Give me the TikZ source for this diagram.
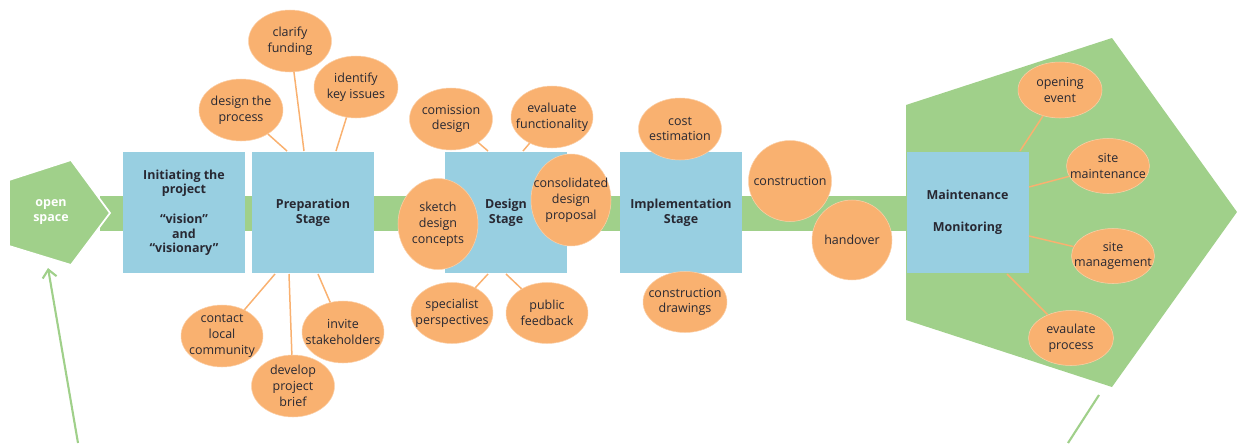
\documentclass[tikz,border=0pt]{standalone}
\usepackage{fontspec}
\setmainfont{Open Sans}
\usetikzlibrary{shapes.geometric,arrows.meta}
\definecolor{cgreen}{RGB}{160,208,138}
\definecolor{cblue}{RGB}{152,207,225}
\definecolor{corange}{RGB}{249,177,112}
\definecolor{ctext}{RGB}{40,40,50}
\tikzset{
  stagebox/.style={fill=cblue, minimum width=2.44cm, minimum height=2.42cm, inner sep=0pt,
    font=\bfseries\fontsize{7.1}{8.6}\selectfont, text=ctext, align=center},
  idea/.style={ellipse, fill=corange, draw=white!40!corange, line width=0.3pt, inner sep=-14pt,
    text=ctext, align=center, font=\fontsize{7.1}{9}\selectfont},
  link/.style={draw=corange, line width=0.85pt},
  gline/.style={draw=cgreen, line width=1.2pt}
}
\begin{document}
\begin{tikzpicture}[x=0.02cm,y=-0.02cm]
\useasboundingbox (0,0) rectangle (1237,443);
% bar
\fill[cgreen] (100,196) rectangle (906,231);
% pentagons
\filldraw[fill=cgreen, draw=white, line width=1pt] (9,180) -- (71,160) -- (110,213) -- (71,265) -- (9,246) -- cycle;
\fill[cgreen] (906,105) -- (1112,38) -- (1237,212) -- (1112,387) -- (906,320) -- cycle;
\node[text=white, font=\bfseries\fontsize{7.1}{9}\selectfont, align=center] (os) at (51,212) {open\\space};
% arrows
\coordinate (atail) at (78,443);
\coordinate (ahead) at (48,268);
\draw[gline, -{Straight Barb[length=4.5pt,width=8pt]}] (atail) -- (ahead);
\coordinate (btail) at (1068,443);
\coordinate (bhead) at (1099,395);
\draw[gline] (btail) -- (bhead);
% stage boxes
\node[stagebox, font=\bfseries\fontsize{7.1}{8.2}\selectfont] (init) at (184,212.5) {Initiating the\\project\\[9pt]“vision”\\and\\“visionary”};
\node[stagebox] (prep) at (313,212.5) {Preparation\\Stage};
\node[stagebox] (des) at (506,212.5) {Design\\Stage};
\node[stagebox] (impl) at (681,212.5) {Implementation\\Stage};
\node[stagebox, font=\bfseries\fontsize{7.1}{9}\selectfont] (maint) at (967.5,212.5) {Maintenance\\[9pt]Monitoring};
% preparation ideas
\node[idea, minimum width=1.66cm, minimum height=1.24cm] (fund) at (290,41) {clarify\\funding};
\node[idea, minimum width=1.68cm, minimum height=1.24cm] (keyi) at (356,87) {identify\\key issues};
\node[idea, minimum width=1.68cm, minimum height=1.24cm] (proc) at (241,110) {design the\\process};
\node[idea, minimum width=1.64cm, minimum height=1.24cm] (comm) at (222,336) {contact\\local\\community};
\node[idea, minimum width=1.66cm, minimum height=1.24cm] (brief) at (293,386) {develop\\project\\brief};
\node[idea, minimum width=1.64cm, minimum height=1.24cm] (stake) at (343,332) {invite\\stakeholders};
% design ideas
\node[idea, minimum width=1.66cm, minimum height=1.24cm] (comi) at (451,119) {comission\\design};
\node[idea, minimum width=1.64cm, minimum height=1.24cm] (func) at (552,117) {evaluate\\functionality};
\node[idea, minimum width=1.6cm, minimum height=1.82cm] (sketch) at (438,224) {sketch\\design\\concepts};
\node[idea, minimum width=1.6cm, minimum height=1.84cm] (cons) at (571,200) {consolidated\\design\\proposal};
\node[idea, minimum width=1.64cm, minimum height=1.22cm] (spec) at (452,313) {specialist\\perspectives};
\node[idea, minimum width=1.64cm, minimum height=1.22cm] (pub) at (547,313) {public\\feedback};
% implementation ideas
\node[idea, minimum width=1.66cm, minimum height=1.24cm] (cost) at (680,129) {cost\\estimation};
\node[idea, minimum width=1.68cm, minimum height=1.22cm] (cdraw) at (685,302) {construction\\drawings};
\node[idea, minimum width=1.66cm, minimum height=1.62cm] (constr) at (790,181) {construction};
\node[idea, minimum width=1.6cm, minimum height=1.6cm] (hand) at (852,240) {handover};
% maintenance ideas
\node[idea, minimum width=1.68cm, minimum height=1.12cm] (open) at (1060,90) {opening\\event};
\node[idea, minimum width=1.66cm, minimum height=1.1cm] (smaint) at (1108,166) {site\\maintenance};
\node[idea, minimum width=1.66cm, minimum height=1.1cm] (smgmt) at (1113,256) {site\\management};
\node[idea, minimum width=1.7cm, minimum height=1.1cm] (evp) at (1071,338) {evaulate\\process};
% connector end points
\coordinate (p1) at (287,151);
\coordinate (p2) at (304,151);
\coordinate (p3) at (336,151);
\coordinate (p4) at (275,274);
\coordinate (p5) at (289,274);
\coordinate (p6) at (318,274);
\coordinate (d1) at (488,151);
\coordinate (d2) at (523,151);
\coordinate (d3) at (488,274);
\coordinate (d4) at (506,274);
\coordinate (m1) at (1020,151);
\coordinate (m2) at (1029,187);
\coordinate (m3) at (1029,236);
\coordinate (m4) at (1007,274);
% connectors
\draw[link] (proc) -- (p1);
\draw[link] (fund) -- (p2);
\draw[link] (keyi) -- (p3);
\draw[link] (comm) -- (p4);
\draw[link] (brief) -- (p5);
\draw[link] (stake) -- (p6);
\draw[link] (comi) -- (d1);
\draw[link] (func) -- (d2);
\draw[link] (spec) -- (d3);
\draw[link] (pub) -- (d4);
\draw[link] (open) -- (m1);
\draw[link] (smaint) -- (m2);
\draw[link] (smgmt) -- (m3);
\draw[link] (evp) -- (m4);
\end{tikzpicture}
\end{document}
